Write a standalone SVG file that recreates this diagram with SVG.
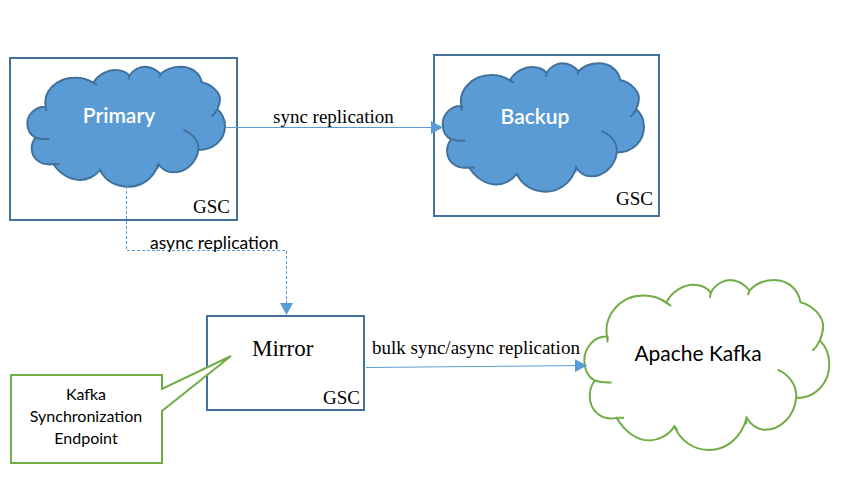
<svg xmlns="http://www.w3.org/2000/svg" width="845" height="479" viewBox="0 0 845 479">
<style>
.box{fill:#fff;stroke:#41719c;stroke-width:2}
.serif{font-family:"Liberation Serif","Times New Roman",serif;fill:#000}
.sans{font-family:Lato,"Noto Sans",sans-serif;fill:#000}
.cl{font-family:Lato,"Noto Sans",sans-serif;fill:#fff;font-size:21px;font-weight:600;text-anchor:middle}
.blue path{fill:#5b9bd5;stroke:#41719c}
.green path{fill:#fff;stroke:#70ad47}
.cloud path{stroke-width:2;vector-effect:non-scaling-stroke}
path.hook{fill:none!important}
.conn{fill:none;stroke:#5b9bd5;stroke-width:1}
</style>
<defs>
<marker id="ah" markerUnits="userSpaceOnUse" markerWidth="12" markerHeight="13" refX="12" refY="6.5" orient="auto"><path d="M0,0L12,6.5L0,13Z" fill="#5b9bd5"/></marker>
</defs>

<g id="primary">
<rect class="box" x="10" y="58" width="227" height="162"/>
<g class="cloud blue" transform="translate(0,40) scale(.33333)"><path d="M138,205C125,155 170,113 225,113C248,113 268,120 280,128C295,102 325,90 345,90C365,90 380,97 388,107C400,88 420,80 435,80C455,80 470,90 482,102C500,85 525,80 542,80C575,80 600,100 605,127C640,135 660,160 660,178C660,190 657,198 652,208C668,222 675,240 675,258C675,300 640,330 595,330C590,370 555,397 520,397C502,397 487,390 475,372C460,420 420,440 385,440C345,440 315,420 300,390C285,410 260,420 240,420C210,420 180,402 160,372C125,378 95,358 95,325C95,312 100,302 107,293C90,285 82,270 82,250C82,225 105,198 138,200Z"/><path class="hook" d="M138,200L138,212M280,128L292,135M388,107L386,118M482,102L478,112M652,208C648,216 642,224 634,230M595,330C597,300 575,280 550,270M475,372L473,386M300,390L307,398M160,372L178,372M107,293C118,296 133,298 148,297"/></g>
<text class="cl" x="119" y="123">Primary</text>
<text class="serif" x="193" y="212.500" font-size="19">GSC</text>
</g>

<g id="backup">
<rect class="box" x="434" y="55" width="225" height="161"/>
<g class="cloud blue" transform="translate(414.83,34.81) scale(.3395,.3565)"><path d="M138,205C125,155 170,113 225,113C248,113 268,120 280,128C295,102 325,90 345,90C365,90 380,97 388,107C400,88 420,80 435,80C455,80 470,90 482,102C500,85 525,80 542,80C575,80 600,100 605,127C640,135 660,160 660,178C660,190 657,198 652,208C668,222 675,240 675,258C675,300 640,330 595,330C590,370 555,397 520,397C502,397 487,390 475,372C460,420 420,440 385,440C345,440 315,420 300,390C285,410 260,420 240,420C210,420 180,402 160,372C125,378 95,358 95,325C95,312 100,302 107,293C90,285 82,270 82,250C82,225 105,198 138,200Z"/><path class="hook" d="M138,200L138,212M280,128L292,135M388,107L386,118M482,102L478,112M652,208C648,216 642,224 634,230M595,330C597,300 575,280 550,270M475,372L473,386M300,390L307,398M160,372L178,372M107,293C118,296 133,298 148,297"/></g>
<text class="cl" x="535" y="124">Backup</text>
<text class="serif" x="616" y="205" font-size="19">GSC</text>
</g>

<g id="mirror">
<rect class="box" x="207" y="316" width="157" height="94"/>
<text class="serif" x="252" y="356" font-size="23">Mirror</text>
<text class="serif" x="323" y="404" font-size="19">GSC</text>
</g>

<g id="callout">
<path d="M11,375H162V389L231,356L162,411V463H11Z" fill="#fff" stroke="#70ad47" stroke-width="2"/>
<g class="sans" font-size="16" text-anchor="middle">
<text x="86" y="400">Kafka</text>
<text x="86" y="422">Synchronization</text>
<text x="86" y="444">Endpoint</text>
</g>
</g>

<g id="kafka">
<g class="cloud green" transform="translate(550.46,242.2) scale(.4131,.4722)"><path d="M138,205C125,155 170,113 225,113C248,113 268,120 280,128C295,102 325,90 345,90C365,90 380,97 388,107C400,88 420,80 435,80C455,80 470,90 482,102C500,85 525,80 542,80C575,80 600,100 605,127C640,135 660,160 660,178C660,190 657,198 652,208C668,222 675,240 675,258C675,300 640,330 595,330C590,370 555,397 520,397C502,397 487,390 475,372C460,420 420,440 385,440C345,440 315,420 300,390C285,410 260,420 240,420C210,420 180,402 160,372C125,378 95,358 95,325C95,312 100,302 107,293C90,285 82,270 82,250C82,225 105,198 138,200Z"/><path class="hook" d="M138,200L138,212M280,128L292,135M388,107L386,118M482,102L478,112M652,208C648,216 642,224 634,230M595,330C597,300 575,280 550,270M475,372L473,386M300,390L307,398M160,372L178,372M107,293C118,296 133,298 148,297"/></g>
<text class="sans" x="698" y="361" font-size="21" text-anchor="middle">Apache Kafka</text>
</g>

<g id="connectors">
<path class="conn" d="M225,127.500H443" marker-end="url(#ah)"/>
<path class="conn" d="M126.500,186V250.500H286.500V315" stroke-dasharray="3 2" marker-end="url(#ah)"/>
<path class="conn" d="M366,367.500L587,365.500" marker-end="url(#ah)"/>
</g>
<text class="serif" font-size="19" x="273" y="123">sync replication</text>
<text class="sans" font-size="17.500" x="150" y="248.500">async replication</text>
<text class="serif" font-size="19" x="372" y="354">bulk sync/async replication</text>
</svg>
